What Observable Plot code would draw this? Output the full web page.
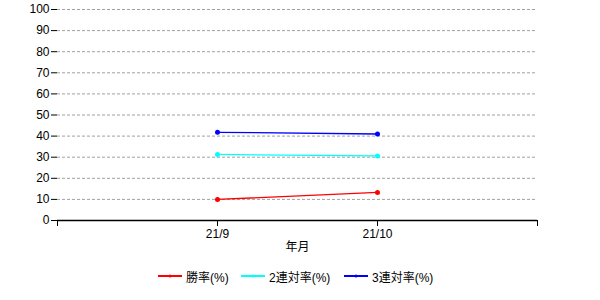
<!DOCTYPE html>
<html>
<head>
<meta charset="utf-8">
<script src="https://cdn.jsdelivr.net/npm/d3@7"></script>
<script src="https://cdn.jsdelivr.net/npm/@observablehq/plot@0.6"></script>
<style>
  html, body { margin: 0; padding: 0; background: #fff; }
  body { width: 600px; height: 300px; overflow: hidden; font-family: "Liberation Sans", "Noto Sans CJK JP", sans-serif; }
  #legend { position: relative; height: 40px; font-size: 12px; color: #000; }
  .item { position: absolute; top: 8px; display: flex; align-items: center; height: 16px; white-space: nowrap; }
  .item svg { margin-right: 4px; }
</style>
</head>
<body>
<div id="chart"></div>
<div id="legend"></div>
<script>
const months = ["21/9", "21/10"];
const winRate = [10.0, 13.3];
const quinellaRate = [31.3, 30.6];
const showRate = [41.8, 41.0];
const seriesNames = ["勝率(%)", "2連対率(%)", "3連対率(%)"];
const seriesColors = ["#ff0000", "#00ffff", "#0000ff"];
const yTicks = [0, 10, 20, 30, 40, 50, 60, 70, 80, 90, 100];
const xTickLabels = ["", "21/9", "21/10", ""];
const legendLeft = [158, 241, 344];

const seriesValues = [winRate, quinellaRate, showRate];
const data = [];
seriesValues.forEach((vals, s) => {
  vals.forEach((v, i) => data.push({series: seriesNames[s], x: i + 1, y: v}));
});

const chart = Plot.plot({
  width: 600,
  height: 260,
  marginTop: 9,
  marginBottom: 40,
  marginLeft: 57,
  marginRight: 63,
  style: {fontSize: "12px", fontFamily: "'Liberation Sans', 'Noto Sans CJK JP', sans-serif", color: "#000", background: "#fff"},
  x: {domain: [0, 3]},
  y: {domain: [0, 100]},
  color: {domain: seriesNames, range: seriesColors},
  marks: [
    Plot.ruleY(yTicks.filter(d => d > 0), {stroke: "#a0a0a0", strokeDasharray: "3,2", strokeOpacity: 1}),
    Plot.axisY({ticks: yTicks, tickSize: 6, tickPadding: 2, label: null, stroke: "#000", strokeOpacity: 1}),
    Plot.axisX({ticks: [0, 1, 2, 3], tickFormat: d => xTickLabels[d], tickSize: 6, tickPadding: 3, label: null, stroke: "#000", strokeOpacity: 1}),
    Plot.ruleY([0], {stroke: "#000", strokeWidth: 1.5}),
    Plot.line(data, {x: "x", y: "y", z: "series", stroke: "series", strokeWidth: 1.3}),
    Plot.dot(data, {x: "x", y: "y", fill: "series", r: 2.5}),
    Plot.text(["年月"], {frameAnchor: "bottom", dy: 30, fontSize: 12, fill: "#000"})
  ]
});
document.getElementById("chart").appendChild(chart);

const legend = document.getElementById("legend");
seriesNames.forEach((name, i) => {
  const item = document.createElement("div");
  item.className = "item";
  item.style.left = legendLeft[i] + "px";
  item.innerHTML = `<svg width="24" height="8"><line x1="0" y1="4" x2="24" y2="4" stroke="${seriesColors[i]}" stroke-width="2"/><circle cx="12" cy="4" r="1.5" fill="${seriesColors[i]}"/></svg><span>${name}</span>`;
  legend.appendChild(item);
});
</script>
</body>
</html>
